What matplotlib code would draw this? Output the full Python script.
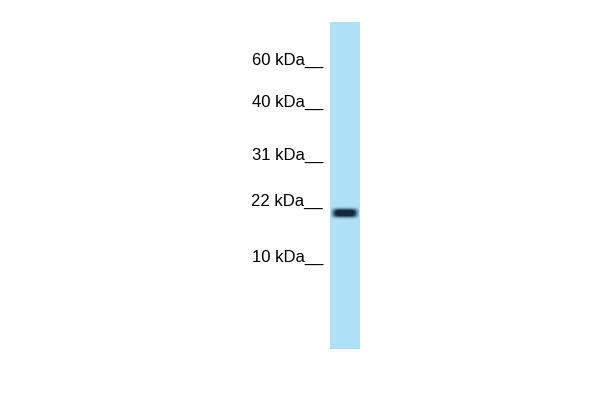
import numpy as np
import matplotlib.pyplot as plt
from matplotlib.patches import Rectangle

# marker ladder (kDa) and where each one ran on the blot (pixel rows)
marker_kda = [60, 40, 31, 22, 10]
marker_row = [60, 102, 155, 201, 257]

# single detected band
band_row = 213
band_strength = 1.0

lane_left, lane_right = 330, 360
lane_top, lane_bottom = 22, 349

fig = plt.figure(figsize=(6, 4), dpi=100)
ax = fig.add_axes([0, 0, 1, 1])
ax.set_xlim(0, 600)
ax.set_ylim(400, 0)
ax.axis('off')

# lane background
ax.add_patch(Rectangle((lane_left, lane_top), lane_right - lane_left,
                       lane_bottom - lane_top, color='#aee0f6', lw=0))

# band drawn as a soft blob
xs = np.linspace(-1, 1, 60)
ys = np.linspace(-1, 1, 30)
gx, gy = np.meshgrid(xs, ys)
blob = np.exp(-(np.abs(gx) / 0.88) ** 5 - (np.abs(gy) / 0.55) ** 3)
img = np.zeros((30, 60, 4))
img[..., 0] = 18 / 255
img[..., 1] = 40 / 255
img[..., 2] = 62 / 255
img[..., 3] = np.clip(blob * 1.25 * band_strength, 0, 1)
ax.imshow(img, extent=(lane_left + 1, lane_right - 1, band_row + 8, band_row - 8),
          interpolation='bilinear', zorder=3)

for kda, row in zip(marker_kda, marker_row):
    ax.text(323, row, f'{kda} kDa__', ha='right', va='center',
            fontsize=12, family='Liberation Sans', color='black')

fig.savefig('out.png', dpi=100)
